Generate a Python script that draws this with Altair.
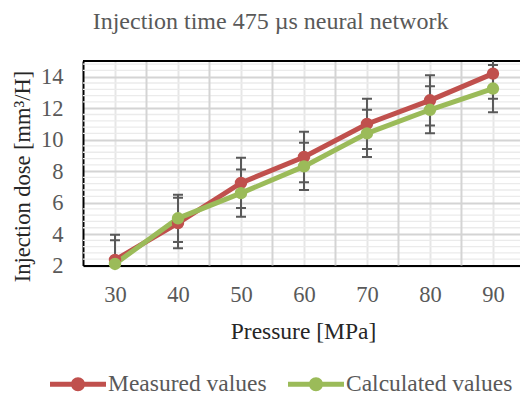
import altair as alt
import pandas as pd

# ---- data ----
pressure = [30, 40, 50, 60, 70, 80, 90]
measured = [2.35, 4.7, 7.25, 8.9, 11.0, 12.5, 14.2]
calculated = [2.1, 5.0, 6.6, 8.3, 10.4, 11.9, 13.25]
measured_err = [1.6, 1.6, 1.6, 1.6, 1.6, 1.6, 1.6]
calculated_err = [1.5, 1.5, 1.5, 1.5, 1.5, 1.5, 1.5]
series_names = ["Measured values", "Calculated values"]
series_colors = ["#C0504D", "#9BBB59"]
x_ticks = [30, 40, 50, 60, 70, 80, 90]
y_ticks = [2, 4, 6, 8, 10, 12, 14]

rows = []
for name, vals, errs in [(series_names[0], measured, measured_err),
                         (series_names[1], calculated, calculated_err)]:
    for p, v, e in zip(pressure, vals, errs):
        rows.append({"series": name, "pressure": p, "value": v, "lo": v - e, "hi": v + e})
df = pd.DataFrame(rows)

# grid helper positions (styling only)
x_bounds = [x + 5 for x in x_ticks[:-1]]
y_minor = [round(2 + 0.4 * i, 2) for i in range(33)]
y_minor = [v for v in y_minor if abs(v / 2 - round(v / 2)) > 1e-6 and v <= 15]

FONT = "Liberation Serif, Times New Roman, serif"
GRAY = "#595959"
X_DOMAIN = [24.92, 94.29]
Y_DOMAIN = [2, 15]

xscale = alt.Scale(domain=X_DOMAIN, nice=False, zero=False)
yscale = alt.Scale(domain=Y_DOMAIN, nice=False, zero=False)

x_axis = alt.Axis(values=x_ticks, grid=True, gridColor="#e6e6e6", gridWidth=2,
                  domain=True, domainColor="black", domainWidth=2, ticks=False,
                  labelOverlap=False,
                  labelPadding=18, labelFontSize=22.5, labelColor=GRAY, labelFont=FONT,
                  title="Pressure [MPa]", titleFont=FONT, titleFontSize=23.5,
                  titleFontWeight="normal", titleColor="#262626",
                  titleX=220, titleY=65.5, titleBaseline="middle")
y_axis = alt.Axis(values=y_ticks, grid=True, gridColor="#d4d4d4", gridWidth=2,
                  domain=True, domainColor="black", domainWidth=2, ticks=False,
                  labelOverlap=False,
                  labelPadding=20, labelFontSize=22.5, labelColor=GRAY, labelFont=FONT,
                  title="Injection dose [mm³/H]", titleFont=FONT, titleFontSize=22.5,
                  titleFontWeight="normal", titleColor="#262626",
                  titleX=-60.5, titleY=115, titleBaseline="middle")

minor_df = pd.DataFrame({"v": y_minor})
minor = alt.Chart(minor_df).mark_rule(color="#ebebeb", strokeWidth=1.3).encode(
    y=alt.Y("v:Q", scale=yscale, axis=y_axis))

bounds_df = pd.DataFrame({"b": x_bounds})
vbounds = alt.Chart(bounds_df).mark_rule(color="#d4d4d4", strokeWidth=2).encode(
    x=alt.X("b:Q", scale=xscale, axis=x_axis))

top_df = pd.DataFrame({"t": [Y_DOMAIN[1]]})
top_line = alt.Chart(top_df).mark_rule(color="black", strokeWidth=2).encode(
    y=alt.Y("t:Q", scale=yscale, axis=y_axis))

base = alt.Chart(df).encode(
    x=alt.X("pressure:Q", scale=xscale, axis=x_axis),
)

err_rule = base.mark_rule(color="#595959", strokeWidth=2, clip=True).encode(
    y=alt.Y("lo:Q", scale=yscale, axis=y_axis), y2="hi:Q",
    detail="series:N")
err_lo = base.mark_tick(color="#595959", orient="horizontal", size=10, thickness=2,
                        clip=True, opacity=1).encode(
    y=alt.Y("lo:Q", scale=yscale, axis=y_axis), detail="series:N")
err_hi = base.mark_tick(color="#595959", orient="horizontal", size=10, thickness=2,
                        clip=True, opacity=1).encode(
    y=alt.Y("hi:Q", scale=yscale, axis=y_axis), detail="series:N")

lines = base.mark_line(strokeWidth=5).encode(
    y=alt.Y("value:Q", scale=yscale, axis=y_axis),
    stroke=alt.Stroke("series:N", scale=alt.Scale(domain=series_names, range=series_colors),
                      legend=None))

legend_symbol = ("M-1,-0.09 L1,-0.09 L1,0.09 L-1,0.09 Z "
                 "M-0.25,0 A0.25,0.25 0 1,1 0.25,0 A0.25,0.25 0 1,1 -0.25,0 Z")

points = base.mark_circle(size=154, opacity=1).encode(
    y=alt.Y("value:Q", scale=yscale, axis=y_axis),
    fill=alt.Fill("series:N", scale=alt.Scale(domain=series_names, range=series_colors),
                  legend=alt.Legend(title=None, orient="none", legendX=-33, legendY=295,
                                    direction="horizontal", columns=2,
                                    symbolType=legend_symbol, symbolSize=3136,
                                    symbolStrokeWidth=0, symbolOpacity=1,
                                    labelFont=FONT, labelFontSize=23.5, labelColor=GRAY,
                                    labelOffset=2, columnPadding=21, padding=0,
                                    labelLimit=400)))

chart = alt.layer(minor, vbounds, top_line, err_rule, err_lo, err_hi, lines, points).resolve_scale(
    fill="independent", stroke="independent"
).properties(
    width=437, height=204.5,
    autosize=alt.AutoSizeParams(type="none"),
    padding={"left": 83, "top": 61, "right": 0, "bottom": 130.5},
    title=alt.TitleParams("Injection time 475 µs neural network", font=FONT, fontSize=24,
                          color=GRAY, fontWeight="normal", anchor="start", frame="group",
                          dx=9.7, dy=-22),
).configure_view(stroke=None).configure_axis(labelOverlap=False).configure(background="white")

chart.save("out.html", embed_options={"renderer": "svg", "actions": False})
